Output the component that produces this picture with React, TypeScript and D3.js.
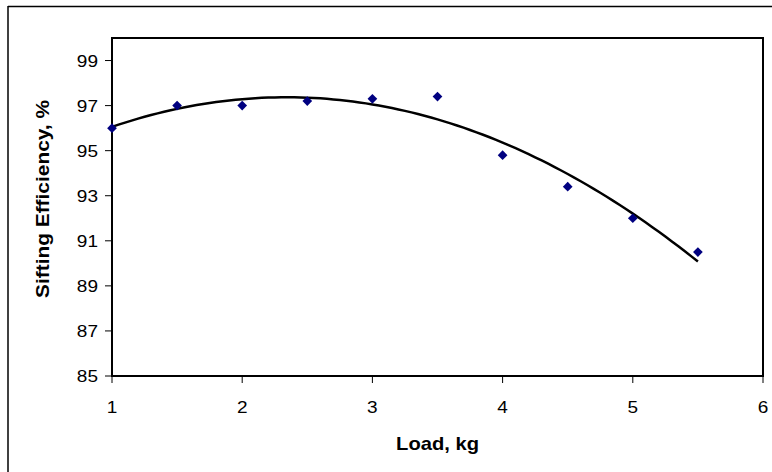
import React from "react";
import * as d3 from "d3";

const loads = [1, 1.5, 2, 2.5, 3, 3.5, 4, 4.5, 5, 5.5];
const efficiency = [96.0, 97.0, 97.0, 97.2, 97.3, 97.4, 94.8, 93.4, 92.0, 90.5];
const xTicks = [1, 2, 3, 4, 5, 6];
const yTicks = [85, 87, 89, 91, 93, 95, 97, 99];
const xLabel = "Load, kg";
const yLabel = "Sifting Efficiency, %";

// least-squares quadratic trendline (Excel polynomial order 2)
function quadFit(xs: number[], ys: number[]) {
  const n = xs.length;
  let s1 = 0, s2 = 0, s3 = 0, s4 = 0, t0 = 0, t1 = 0, t2 = 0;
  for (let i = 0; i < n; i++) {
    const x = xs[i], y = ys[i];
    s1 += x; s2 += x * x; s3 += x ** 3; s4 += x ** 4;
    t0 += y; t1 += x * y; t2 += x * x * y;
  }
  const M = [
    [n, s1, s2, t0],
    [s1, s2, s3, t1],
    [s2, s3, s4, t2],
  ];
  for (let i = 0; i < 3; i++) {
    for (let j = i + 1; j < 3; j++) {
      const f = M[j][i] / M[i][i];
      for (let k = i; k < 4; k++) M[j][k] -= f * M[i][k];
    }
  }
  const c = [0, 0, 0];
  for (let i = 2; i >= 0; i--) {
    let s = M[i][3];
    for (let k = i + 1; k < 3; k++) s -= M[i][k] * c[k];
    c[i] = s / M[i][i];
  }
  return (x: number) => c[0] + c[1] * x + c[2] * x * x;
}

export default function App() {
  const W = 772, H = 472;
  const left = 112, right = 763, top = 38, bottom = 376;
  const x = d3.scaleLinear().domain([1, 6]).range([left, right]);
  const y = d3.scaleLinear().domain([85, 100]).range([bottom, top]);
  const fit = quadFit(loads, efficiency);
  const xs = d3.range(loads[0], loads[loads.length - 1] + 1e-9, 0.05);
  const line = d3.line<number>().x((d) => x(d)).y((d) => y(fit(d)));
  const font = "'Liberation Sans', Arial, sans-serif";
  const sx = 1.12;

  return (
    <svg width={W} height={H} style={{ position: "absolute", left: 0, top: 0 }}>
      <rect x={0} y={0} width={W} height={H} fill="#fff" />
      {/* outer chart frame */}
      <line x1={8} y1={6.5} x2={W} y2={6.5} stroke="#000" strokeWidth={1.5} />
      <line x1={8} y1={6} x2={8} y2={H} stroke="#000" strokeWidth={1.5} />
      {/* plot area */}
      <rect x={left} y={top} width={right - left} height={bottom - top} fill="#fff" stroke="#000" strokeWidth={2} />
      {yTicks.map((t) => (
        <g key={"y" + t}>
          <line x1={left - 7} x2={left} y1={y(t)} y2={y(t)} stroke="#000" strokeWidth={1} />
          <text
            transform={`translate(${left - 14}, ${y(t)}) scale(${sx},1)`}
            dy="0.36em"
            textAnchor="end"
            fontFamily={font}
            fontSize={17}
            fill="#000"
          >
            {t}
          </text>
        </g>
      ))}
      {xTicks.map((t) => (
        <g key={"x" + t}>
          <line x1={x(t)} x2={x(t)} y1={bottom} y2={bottom + 7} stroke="#000" strokeWidth={1} />
          <text
            transform={`translate(${x(t)}, 413) scale(${sx},1)`}
            textAnchor="middle"
            fontFamily={font}
            fontSize={17}
            fill="#000"
          >
            {t}
          </text>
        </g>
      ))}
      <text
        transform={`translate(${(left + right) / 2}, 450) scale(${sx},1)`}
        textAnchor="middle"
        fontFamily={font}
        fontSize={18}
        fontWeight="bold"
      >
        {xLabel}
      </text>
      <text
        transform={`translate(49, 199) rotate(-90) scale(1.16,1)`}
        textAnchor="middle"
        fontFamily={font}
        fontSize={18}
        fontWeight="bold"
      >
        {yLabel}
      </text>
      <path d={line(xs) || ""} fill="none" stroke="#000" strokeWidth={2.5} />
      {loads.map((l, i) => (
        <path
          key={"p" + i}
          d={d3.symbol().type(d3.symbolDiamond2).size(60)() || ""}
          transform={`translate(${x(l)},${y(efficiency[i])})`}
          fill="#000080"
        />
      ))}
    </svg>
  );
}
